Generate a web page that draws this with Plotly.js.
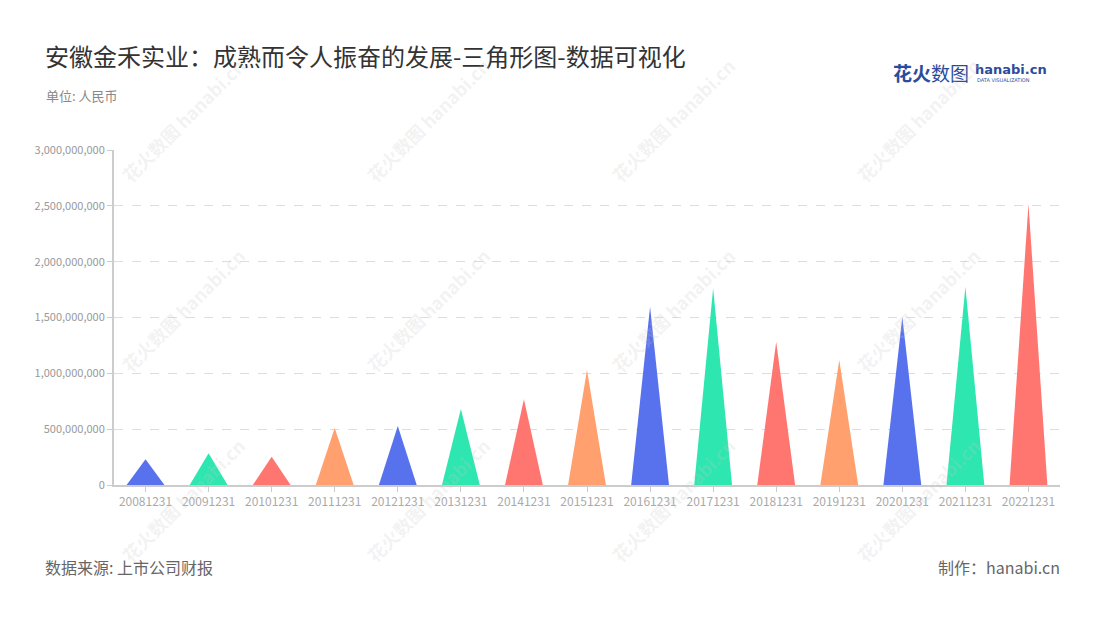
<!DOCTYPE html>
<html>
<head>
<meta charset="utf-8">
<script src="https://cdn.plot.ly/plotly-3.0.1.min.js"></script>
<style>html,body{margin:0;padding:0;background:#fff;}#chart{width:1100px;height:620px;}</style>
</head>
<body>
<div id="chart"></div>
<script>
const categories = ["20081231","20091231","20101231","20111231","20121231","20131231","20141231","20151231","20161231","20171231","20181231","20191231","20201231","20211231","20221231"];
const values = [230000000, 284000000, 254000000, 510000000, 528000000, 680000000, 767000000, 1030000000, 1597000000, 1761000000, 1283000000, 1119000000, 1507000000, 1776000000, 2516000000];
const palette = ["#5872ED", "#2EE6B0", "#FF7670", "#FFA06E"];
const yTicks = [0, 500000000, 1000000000, 1500000000, 2000000000, 2500000000, 3000000000];

const FONT = '"Noto Sans CJK SC", "Noto Sans", sans-serif';
const halfW = 0.3;

const traces = categories.map((c, i) => ({
  type: 'scatter',
  mode: 'lines',
  x: [i - halfW, i, i + halfW, i - halfW],
  y: [0, values[i], 0, 0],
  fill: 'toself',
  fillcolor: palette[i % palette.length],
  line: {width: 0, color: palette[i % palette.length]},
  hoverinfo: 'text',
  text: c + ': ' + values[i].toLocaleString(),
  showlegend: false
}));

// pixel helpers for annotation placement (plot area: x 114..1060, y 150..485)
const px = x => (x - 114) / 946;
const py = y => (485 - y) / 335;

const annotations = [
  {text: '安徽金禾实业：成熟而令人振奋的发展-三角形图-数据可视化', xref: 'paper', yref: 'paper', x: px(43), y: py(55), xanchor: 'left', yanchor: 'middle', showarrow: false, font: {family: FONT, size: 24, color: '#333'}},
  {text: '单位: 人民币', xref: 'paper', yref: 'paper', x: px(44), y: py(96), xanchor: 'left', yanchor: 'middle', showarrow: false, font: {family: FONT, size: 13, color: '#888'}},
  {text: '数据来源: 上市公司财报', xref: 'paper', yref: 'paper', x: px(43), y: py(567), xanchor: 'left', yanchor: 'middle', showarrow: false, font: {family: FONT, size: 16, color: '#666'}},
  {text: '制作：hanabi.cn', xref: 'paper', yref: 'paper', x: px(1062), y: py(567), xanchor: 'right', yanchor: 'middle', showarrow: false, font: {family: FONT, size: 16, color: '#666'}},
  {text: '<b>花火</b>数图', xref: 'paper', yref: 'paper', x: px(971), y: py(73), xanchor: 'right', yanchor: 'middle', showarrow: false, font: {family: FONT, size: 19, color: '#2B4C9E'}},
  {text: '<b>hanabi.cn</b>', xref: 'paper', yref: 'paper', x: px(973), y: py(69), xanchor: 'left', yanchor: 'middle', showarrow: false, font: {family: '"DejaVu Sans", sans-serif', size: 13, color: '#2B4C9E'}},
  {text: 'DATA VISUALIZATION', xref: 'paper', yref: 'paper', x: px(975), y: py(80), xanchor: 'left', yanchor: 'middle', showarrow: false, font: {family: '"DejaVu Sans", sans-serif', size: 5, color: '#2B4C9E'}}
];

// faint watermarks
const wmCols = [183, 428, 673, 918];
const wmRows = [120, 310, 500];
wmRows.forEach(r => wmCols.forEach(cx => {
  annotations.push({
    text: '<b>花火数图 hanabi.cn</b>', xref: 'paper', yref: 'paper',
    x: px(cx), y: py(r),
    xanchor: 'center', yanchor: 'middle', showarrow: false, textangle: -45,
    font: {family: FONT, size: 18, color: 'rgba(200,200,200,0.22)'}
  });
}));

const layout = {
  width: 1100, height: 620,
  paper_bgcolor: '#fff', plot_bgcolor: '#fff',
  margin: {l: 114, r: 40, t: 150, b: 135},
  font: {family: FONT},
  xaxis: {
    type: 'linear', range: [-0.5, categories.length - 0.5],
    tickmode: 'array', tickvals: categories.map((c, i) => i), ticktext: categories,
    showgrid: false, zeroline: false,
    showline: true, linecolor: '#ccc', linewidth: 2,
    ticks: 'outside', ticklen: 5, tickcolor: '#ccc', tickwidth: 1,
    tickfont: {family: FONT, size: 12, color: '#aaa'},
    fixedrange: true
  },
  yaxis: {
    range: [0, 3000000000],
    tickmode: 'array', tickvals: yTicks, ticktext: yTicks.map(v => v.toLocaleString('en-US')),
    showgrid: true, gridcolor: '#ddd', griddash: 'dash', gridwidth: 1,
    zeroline: false,
    showline: true, linecolor: '#ccc', linewidth: 2,
    ticks: 'outside', ticklen: 5, tickcolor: '#ccc',
    tickfont: {family: FONT, size: 11, color: '#999'},
    fixedrange: true
  },
  annotations: annotations,
  showlegend: false
};

Plotly.newPlot('chart', traces, layout, {displayModeBar: false, staticPlot: true});
</script>
</body>
</html>
